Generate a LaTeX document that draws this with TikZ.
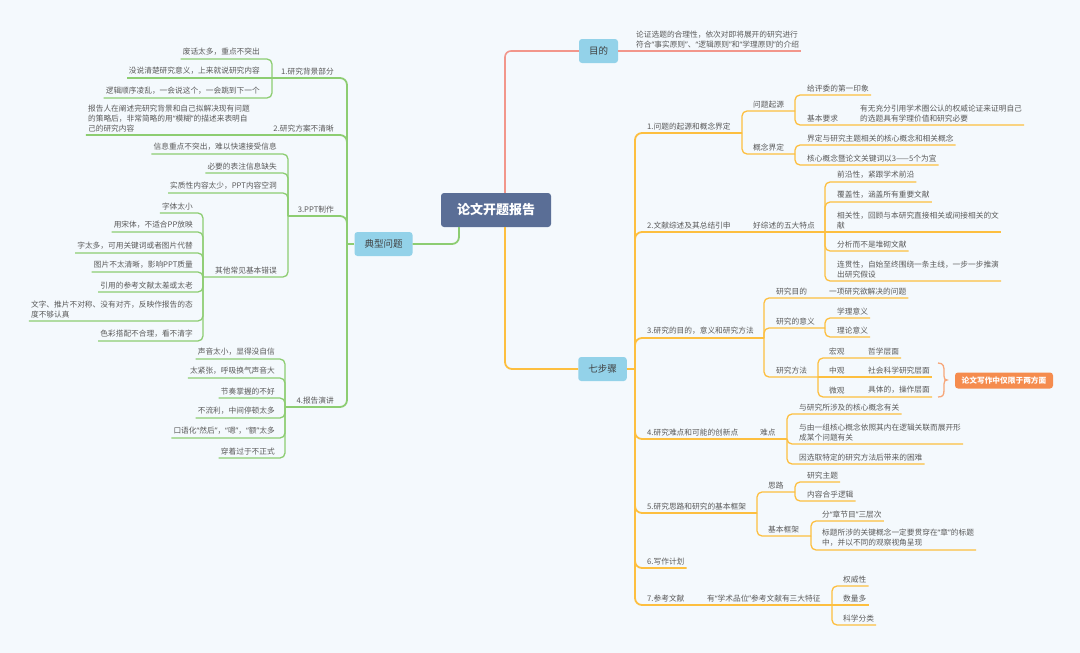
\documentclass[tikz,border=0pt]{standalone}
\usepackage{fontspec}
\setmainfont{Noto Sans CJK SC}
\newfontfamily\qfont{Noto Sans}
\newcommand\qopen{{\qfont “}}
\newcommand\qclose{{\qfont ”}}
\usepackage{xcolor}
\usepackage{tikz}
\usetikzlibrary{positioning}
\definecolor{bgblue}{HTML}{F4F9FD}
\definecolor{txtgray}{HTML}{5A5A5A}
\definecolor{topicblue}{HTML}{93D2E9}
\definecolor{rootblue}{HTML}{5A6E96}
\definecolor{lgreen}{HTML}{8DCD72}
\definecolor{lorange}{HTML}{FDBF40}
\definecolor{lred}{HTML}{F2968B}
\definecolor{calloutor}{HTML}{F58C4E}
\definecolor{bracecol}{HTML}{F7A77A}

\begin{document}
\begin{tikzpicture}[x=1pt,y=-1pt,
    every node/.style={font=\fontsize{7.7}{10}\selectfont, text=txtgray},
    rtxt/.style={anchor=south west, inner xsep=2pt, inner ysep=3pt, align=left},
    ltxt/.style={anchor=south east, inner xsep=2pt, inner ysep=3pt, align=left},
    topic/.style={fill=topicblue, rounded corners=3pt, minimum height=24pt, inner xsep=10pt,
        font=\fontsize{9.5}{11}\selectfont, text=black!75},
    root/.style={fill=rootblue, rounded corners=3pt, minimum width=110pt, minimum height=34pt,
        font=\fontsize{13}{15}\selectfont\bfseries, text=white},
    callout/.style={fill=calloutor, rounded corners=3pt, minimum width=98pt, minimum height=16pt,
        inner sep=2pt, font=\fontsize{7.7}{10}\selectfont\bfseries, text=white},
    gl/.style={draw=lgreen, line width=1.3pt, rounded corners=5pt},
    gl1/.style={gl, line width=1.8pt, rounded corners=7pt},
    ol/.style={draw=lorange, line width=1.3pt, rounded corners=5pt},
    ol1/.style={ol, line width=1.8pt, rounded corners=7pt},
    rl/.style={draw=lred, line width=1.6pt, rounded corners=6pt}]
    \fill[bgblue] (0,0) rectangle (1080,653);
    \useasboundingbox (0,0) rectangle (1080,653);

    % centre and main topics
    \node[root] (root) at (496,210) {论文开题报告};
    \node[topic] (aim) at (598.5,51) {目的};
    \node[topic] (steps) at (602.5,369) {七步骤};
    \node[topic] (probs) at (383.5,244) {典型问题};
    \draw[rl] ([xshift=9pt]root.north) |- (aim.west);
    \draw[ol1] ([xshift=9pt]root.south) |- (steps.west);
    \draw[gl1] ([xshift=-37pt]root.south) |- (probs.east);

    % 目的
    \node[rtxt] (aim1) at (634,51) {论证选题的合理性，依次对即将展开的研究进行\\符合\qopen 事实原则\qclose 、\qopen 逻辑原则\qclose 和\qopen 学理原则\qclose 的介绍};
    \draw[rl] (aim.east) -- (aim1.south east);

    % 七步骤
    \coordinate (st) at (635,369);
    \draw[ol1] (steps.east) -- (st);

    \node[rtxt] (s1) at (645,133) {1.问题的起源和概念界定};
    \coordinate (s1x) at (742,133);
    \draw[ol1] (st) |- (s1x);
    \node[rtxt] (s1a) at (751,111) {问题起源};
    \coordinate (s1ax) at (795,111);
    \draw[ol] (s1x) |- (s1ax);
    \node[rtxt] (s1a1) at (805,95) {给评委的第一印象};
    \draw[ol] (s1ax) |- (s1a1.south east);
    \node[rtxt] (s1a2) at (805,125) {基本要求};
    \node[rtxt] (s1a2a) at (858,125) {有无充分引用学术圈公认的权威论证来证明自己\\的选题具有学理价值和研究必要};
    \draw[ol] (s1ax) |- (s1a2a.south east);
    \node[rtxt] (s1b) at (751,154) {概念界定};
    \coordinate (s1bx) at (795,154);
    \draw[ol] (s1x) |- (s1bx);
    \node[rtxt] (s1b1) at (805,145) {界定与研究主题相关的核心概念和相关概念};
    \draw[ol] (s1bx) |- (s1b1.south east);
    \node[rtxt] (s1b2) at (805,165) {核心概念暨论文关键词以3——5个为宜};
    \draw[ol] (s1bx) |- (s1b2.south east);

    \node[rtxt] (s2) at (645,232) {2.文献综述及其总结引申};
    \node[rtxt] (s2a) at (751,232) {好综述的五大特点};
    \coordinate (s2x) at (825,232);
    \draw[ol1] (st) |- (s2x);
    \node[rtxt] (s2a1) at (835,182) {前沿性，紧跟学术前沿};
    \draw[ol] (s2x) |- (s2a1.south east);
    \node[rtxt] (s2a2) at (835,202) {覆盖性，涵盖所有重要文献};
    \draw[ol] (s2x) |- (s2a2.south east);
    \node[rtxt] (s2a3) at (835,232) {相关性，回顾与本研究直接相关或间接相关的文\\献};
    \draw[ol] (s2x) -- (s2a3.south east);
    \node[rtxt] (s2a4) at (835,251) {分析而不是堆砌文献};
    \draw[ol] (s2x) |- (s2a4.south east);
    \node[rtxt] (s2a5) at (835,281) {连贯性，自始至终围绕一条主线，一步一步推演\\出研究假设};
    \draw[ol] (s2x) |- (s2a5.south east);

    \node[rtxt] (s3) at (645,338) {3.研究的目的，意义和研究方法};
    \coordinate (s3x) at (764,338);
    \draw[ol1] (st) |- (s3x);
    \node[rtxt] (s3a) at (774,298) {研究目的};
    \node[rtxt] (s3a1) at (827,298) {一项研究欲解决的问题};
    \draw[ol] (s3x) |- (s3a1.south east);
    \node[rtxt] (s3b) at (774,328) {研究的意义};
    \coordinate (s3bx) at (825,328);
    \draw[ol] (s3x) |- (s3bx);
    \node[rtxt] (s3b1) at (835,318) {学理意义};
    \draw[ol] (s3bx) |- (s3b1.south east);
    \node[rtxt] (s3b2) at (835,337) {理论意义};
    \draw[ol] (s3bx) |- (s3b2.south east);
    \node[rtxt] (s3c) at (774,377) {研究方法};
    \coordinate (s3cx) at (818,377);
    \draw[ol] (s3x) |- (s3cx);
    \node[rtxt] (s3c1) at (827,358) {宏观};
    \node[rtxt] (s3c1a) at (866,358) {哲学层面};
    \draw[ol] (s3cx) |- (s3c1a.south east);
    \node[rtxt] (s3c2) at (827,377) {中观};
    \node[rtxt] (s3c2a) at (866,377) {社会科学研究层面};
    \draw[ol] (s3cx) -- (s3c2a.south east);
    \node[rtxt] (s3c3) at (827,397) {微观};
    \node[rtxt] (s3c3a) at (866,397) {具体的，操作层面};
    \draw[ol] (s3cx) |- (s3c3a.south east);
    \node[callout] (sum) at (1004,380.5) {论文写作中仅限于两方面};
    \draw[draw=bracecol, line width=1.3pt] (938,363) .. controls (944,363) and (944,367) .. (944,372)
        -- (944,376) .. controls (944,379) and (945,380) .. (947,380)
        .. controls (945,380) and (944,381) .. (944,384) -- (944,390)
        .. controls (944,395) and (943,397) .. (938,397);

    \node[rtxt] (s4) at (645,439) {4.研究难点和可能的创新点};
    \node[rtxt] (s4a) at (758,439) {难点};
    \coordinate (s4x) at (787,439);
    \draw[ol1] (st) |- (s4x);
    \node[rtxt] (s4a1) at (797,414) {与研究所涉及的核心概念有关};
    \draw[ol] (s4x) |- (s4a1.south east);
    \node[rtxt] (s4a2) at (797,444) {与由一组核心概念依照其内在逻辑关联而展开形\\成某个问题有关};
    \draw[ol] (s4x) |- (s4a2.south east);
    \node[rtxt] (s4a3) at (797,464) {因选取特定的研究方法后带来的困难};
    \draw[ol] (s4x) |- (s4a3.south east);

    \node[rtxt] (s5) at (645,513) {5.研究思路和研究的基本框架};
    \coordinate (s5x) at (757,513);
    \draw[ol1] (st) |- (s5x);
    \node[rtxt] (s5a) at (766,492) {思路};
    \coordinate (s5ax) at (795,492);
    \draw[ol] (s5x) |- (s5ax);
    \node[rtxt] (s5a1) at (805,482) {研究主题};
    \draw[ol] (s5ax) |- (s5a1.south east);
    \node[rtxt] (s5a2) at (805,501) {内容合乎逻辑};
    \draw[ol] (s5ax) |- (s5a2.south east);
    \node[rtxt] (s5b) at (766,536) {基本框架};
    \coordinate (s5bx) at (811,536);
    \draw[ol] (s5x) |- (s5bx);
    \node[rtxt] (s5b1) at (820,521) {分\qopen 章节目\qclose 三层次};
    \draw[ol] (s5bx) |- (s5b1.south east);
    \node[rtxt] (s5b2) at (820,550) {标题所涉的关键概念一定要贯穿在\qopen 章\qclose 的标题\\中，并以不同的观察视角呈现};
    \draw[ol] (s5bx) |- (s5b2.south east);

    \node[rtxt] (s6) at (645,568) {6.写作计划};
    \draw[ol1] (st) |- (s6.south east);

    \node[rtxt] (s7) at (645,605) {7.参考文献};
    \node[rtxt] (s7a) at (705,605) {有\qopen 学术品位\qclose 参考文献有三大特征};
    \coordinate (s7x) at (832,605);
    \draw[ol1] (st) |- (s7x);
    \node[rtxt] (s7a1) at (841,586) {权威性};
    \draw[ol] (s7x) |- (s7a1.south east);
    \node[rtxt] (s7a2) at (841,605) {数量多};
    \draw[ol] (s7x) -- (s7a2.south east);
    \node[rtxt] (s7a3) at (841,625) {科学分类};
    \draw[ol] (s7x) |- (s7a3.south east);

    % 典型问题
    \coordinate (pt) at (347,244);
    \draw[gl1] (probs.west) -- (pt);

    \node[ltxt] (p1) at (336,78) {1.研究背景部分};
    \coordinate (p1x) at (272,78);
    \draw[gl1] (pt) |- (p1x);
    \node[ltxt] (p1a) at (262,59) {废话太多，重点不突出};
    \draw[gl] (p1x) |- (p1a.south west);
    \node[ltxt] (p1b) at (262,78) {没说清楚研究意义，上来就说研究内容};
    \draw[gl] (p1x) -- (p1b.south west);
    \node[ltxt] (p1c) at (262,98) {逻辑顺序凌乱，一会说这个，一会跳到下一个};
    \draw[gl] (p1x) |- (p1c.south west);

    \node[ltxt] (p2) at (336,135) {2.研究方案不清晰};
    \node[ltxt] (p2a) at (252,135) {报告人在阐述完研究背景和自己拟解决现有问题\\的策略后，非常简略的用\qopen 模糊\qclose 的描述来表明自\\己的研究内容};
    \draw[gl1] (pt) |- (p2a.south west);

    \node[ltxt] (p3) at (336,216) {3.PPT制作};
    \coordinate (p3x) at (288,216);
    \draw[gl1] (pt) |- (p3x);
    \node[ltxt] (p3a) at (279,154) {信息重点不突出，难以快速接受信息};
    \draw[gl] (p3x) |- (p3a.south west);
    \node[ltxt] (p3b) at (279,173) {必要的表注信息缺失};
    \draw[gl] (p3x) |- (p3b.south west);
    \node[ltxt] (p3c) at (279,193) {实质性内容太少，PPT内容空洞};
    \draw[gl] (p3x) |- (p3c.south west);
    \node[ltxt] (p3d) at (279,277) {其他常见基本错误};
    \coordinate (p3dx) at (203,277);
    \draw[gl] (p3x) |- (p3dx);
    \node[ltxt] (p3d1) at (195,213) {字体太小};
    \draw[gl] (p3dx) |- (p3d1.south west);
    \node[ltxt] (p3d2) at (195,232) {用宋体，不适合PP放映};
    \draw[gl] (p3dx) |- (p3d2.south west);
    \node[ltxt] (p3d3) at (195,253) {字太多，可用关键词或者图片代替};
    \draw[gl] (p3dx) |- (p3d3.south west);
    \node[ltxt] (p3d4) at (195,272) {图片不太清晰，影响PPT质量};
    \draw[gl] (p3dx) |- (p3d4.south west);
    \node[ltxt] (p3d5) at (195,292) {引用的参考文献太差或太老};
    \draw[gl] (p3dx) |- (p3d5.south west);
    \node[ltxt] (p3d6) at (195,321) {文字、推片不对称、没有对齐，反映作报告的态\\度不够认真};
    \draw[gl] (p3dx) |- (p3d6.south west);
    \node[ltxt] (p3d7) at (195,341) {色彩搭配不合理，看不清字};
    \draw[gl] (p3dx) |- (p3d7.south west);

    \node[ltxt] (p4) at (336,407) {4.报告演讲};
    \coordinate (p4x) at (285,407);
    \draw[gl1] (pt) |- (p4x);
    \node[ltxt] (p4a) at (277,359) {声音太小，显得没自信};
    \draw[gl] (p4x) |- (p4a.south west);
    \node[ltxt] (p4b) at (277,378) {太紧张，呼吸换气声音大};
    \draw[gl] (p4x) |- (p4b.south west);
    \node[ltxt] (p4c) at (277,398) {节奏掌握的不好};
    \draw[gl] (p4x) |- (p4c.south west);
    \node[ltxt] (p4d) at (277,418) {不流利，中间停顿太多};
    \draw[gl] (p4x) |- (p4d.south west);
    \node[ltxt] (p4e) at (277,438) {口语化\qopen 然后\qclose ，\qopen 嗯\qclose ，\qopen 额\qclose 太多};
    \draw[gl] (p4x) |- (p4e.south west);
    \node[ltxt] (p4f) at (277,458) {穿着过于不正式};
    \draw[gl] (p4x) |- (p4f.south west);
\end{tikzpicture}
\end{document}
